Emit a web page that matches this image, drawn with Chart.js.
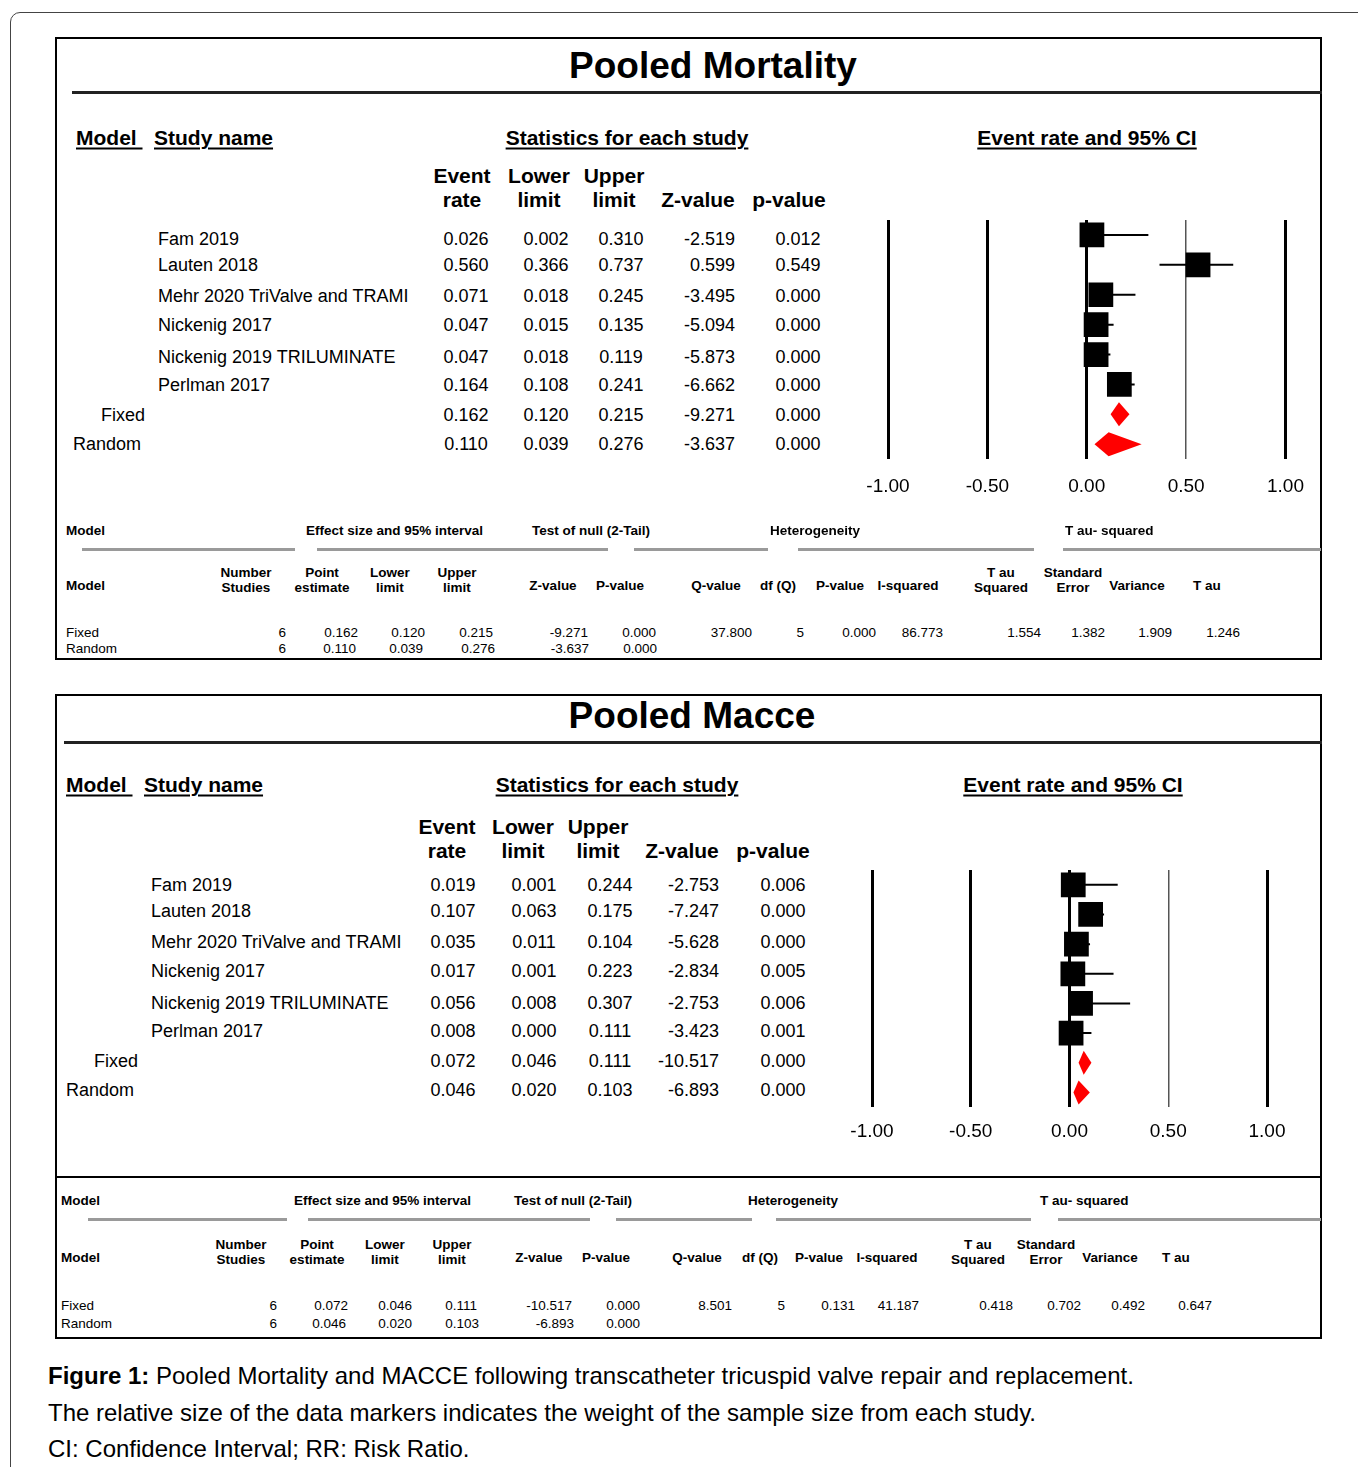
<!DOCTYPE html>
<html lang="en">
<head>
<meta charset="UTF-8">
<title>Pooled Mortality and MACCE</title>
<script src="https://cdn.jsdelivr.net/npm/chart.js"></script>
<style>
    html, body { margin: 0; padding: 0; background: #fff; }
    #page {
        position: relative;
        width: 1358px;
        height: 1467px;
        overflow: hidden;
        font-family: "Liberation Sans", Arial, sans-serif;
        color: #000;
    }
    .t { position: absolute; white-space: nowrap; line-height: 1; }
    .b { font-weight: bold; }
    .u { text-decoration: underline; text-decoration-thickness: 2px; text-underline-offset: 3px; }
    .frame {
        position: absolute; left: 10px; top: 12px; width: 1400px; height: 1500px;
        border: 1px solid #444; border-radius: 10px;
    }
    .panel { position: absolute; border: 2px solid #000; box-sizing: border-box; }
    .rule { position: absolute; background: #222; }
    .grey { position: absolute; height: 3px; background: #9a9a9a; }
    canvas { position: absolute; }
</style>
</head>
<body>
<div id="page">
    <div class="frame"></div>
    <div class="panel" style="left:55px; top:37px; width:1267px; height:623px;"></div>
    <div class="panel" style="left:55px; top:694px; width:1267px; height:645px;"></div>
    <div class="rule" style="left:72px; top:91px; width:1250px; height:3px;"></div>
    <div class="rule" style="left:64px; top:741px; width:1258px; height:3px;"></div>
    <div class="rule" style="left:55px; top:1176px; width:1267px; height:2px; background:#000;"></div>
    <canvas id="mortChart" width="480" height="317" style="left:840px; top:210px;"></canvas>
    <canvas id="macceChart" width="480" height="304" style="left:824px; top:860px;"></canvas>
</div>
<script>
// ---- data ----
const studies = ['Fam 2019', 'Lauten 2018', 'Mehr 2020 TriValve and TRAMI', 'Nickenig 2017',
                 'Nickenig 2019 TRILUMINATE', 'Perlman 2017'];
const models = ['Fixed', 'Random'];
const xTicks = [-1, -0.5, 0, 0.5, 1];

// mortality: six studies, then fixed and random pooled rows
const mortRate  = [0.026, 0.560, 0.071, 0.047, 0.047, 0.164, 0.162, 0.110];
const mortLower = [0.002, 0.366, 0.018, 0.015, 0.018, 0.108, 0.120, 0.039];
const mortUpper = [0.310, 0.737, 0.245, 0.135, 0.119, 0.241, 0.215, 0.276];
const mortZ     = [-2.519, 0.599, -3.495, -5.094, -5.873, -6.662, -9.271, -3.637];
const mortP     = [0.012, 0.549, 0.000, 0.000, 0.000, 0.000, 0.000, 0.000];

// MACCE
const macceRate  = [0.019, 0.107, 0.035, 0.017, 0.056, 0.008, 0.072, 0.046];
const macceLower = [0.001, 0.063, 0.011, 0.001, 0.008, 0.000, 0.046, 0.020];
const macceUpper = [0.244, 0.175, 0.104, 0.223, 0.307, 0.111, 0.111, 0.103];
const macceZ     = [-2.753, -7.247, -5.628, -2.834, -2.753, -3.423, -10.517, -6.893];
const macceP     = [0.006, 0.000, 0.000, 0.005, 0.006, 0.001, 0.000, 0.000];

// model summary rows (fixed row carries heterogeneity and tau-squared)
const mortFixed   = ['6', '0.162', '0.120', '0.215', '-9.271', '0.000', '37.800', '5', '0.000', '86.773', '1.554', '1.382', '1.909', '1.246'];
const mortRandom  = ['6', '0.110', '0.039', '0.276', '-3.637', '0.000'];
const macceFixed  = ['6', '0.072', '0.046', '0.111', '-10.517', '0.000', '8.501', '5', '0.131', '41.187', '0.418', '0.702', '0.492', '0.647'];
const macceRandom = ['6', '0.046', '0.020', '0.103', '-6.893', '0.000'];

const summaryHeads = [['Number', 'Studies'], ['Point', 'estimate'], ['Lower', 'limit'], ['Upper', 'limit'],
    ['Z-value'], ['P-value'], ['Q-value'], ['df (Q)'], ['P-value'], ['I-squared'],
    ['T au', 'Squared'], ['Standard', 'Error'], ['Variance'], ['T au']];
const groupHeads = ['Effect size and 95% interval', 'Test of null (2-Tail)', 'Heterogeneity', 'T au- squared'];

// ---- text helpers ----
const page = document.getElementById('page');

function put(x, y, text, opts) {
    opts = opts || {};
    const el = document.createElement('div');
    el.className = 't ' + (opts.cls || '');
    el.textContent = text;
    el.style.left = x + 'px';
    el.style.top = y + 'px';
    el.style.fontSize = (opts.size || 18) + 'px';
    const tx = opts.align === 'c' ? '-50%' : opts.align === 'r' ? '-100%' : '0';
    el.style.transform = 'translate(' + tx + ', -50%)';
    page.appendChild(el);
    return el;
}

function greyLine(x1, x2, y) {
    const el = document.createElement('div');
    el.className = 'grey';
    el.style.left = x1 + 'px';
    el.style.top = (y - 1) + 'px';
    el.style.width = (x2 - x1) + 'px';
    page.appendChild(el);
}

// upper table of one panel: study rows with their statistics
function studyTable(L, rate, lower, upper, z, p) {
    put(L.titleX, L.titleY, L.title, {cls: 'b', size: 37, align: 'c'});
    put(L.modelX, L.headY, 'Model\u00a0', {cls: 'b u', size: 21});
    put(L.studyX, L.headY, 'Study name', {cls: 'b u', size: 21});
    put(L.statsX, L.headY, 'Statistics for each study', {cls: 'b u', size: 21, align: 'c'});
    put(L.ciX, L.headY, 'Event rate and 95% CI', {cls: 'b u', size: 21, align: 'c'});

    const heads = [['Event', 'rate'], ['Lower', 'limit'], ['Upper', 'limit'], ['Z-value'], ['p-value']];
    heads.forEach((h, k) => {
        if (h.length === 2) {
            put(L.headCols[k], L.colY1, h[0], {cls: 'b', size: 21, align: 'c'});
            put(L.headCols[k], L.colY2, h[1], {cls: 'b', size: 21, align: 'c'});
        } else {
            put(L.headCols[k], L.colY2, h[0], {cls: 'b', size: 21, align: 'c'});
        }
    });

    const labels = studies.concat(models);
    labels.forEach((name, i) => {
        const y = L.rowY[i];
        let x = L.nameX;
        if (i === studies.length) x = L.fixedX;
        if (i === studies.length + 1) x = L.randomX;
        put(x, y, name, {size: 18});
        put(L.valCols[0], y, rate[i].toFixed(3), {size: 18, align: 'c'});
        put(L.valCols[1], y, lower[i].toFixed(3), {size: 18, align: 'c'});
        put(L.valCols[2], y, upper[i].toFixed(3), {size: 18, align: 'c'});
        put(L.valCols[3], y, z[i].toFixed(3), {size: 18, align: 'r'});
        put(L.valCols[4], y, p[i].toFixed(3), {size: 18, align: 'c'});
    });
}

// lower table of one panel: model summary
function summaryTable(S, fixedRow, randomRow) {
    put(S.modelX, S.groupY, 'Model', {cls: 'b', size: 13.5});
    groupHeads.forEach((g, k) => put(S.groupX[k], S.groupY, g, {cls: 'b', size: 13.5}));
    S.lines.forEach(seg => greyLine(seg[0], seg[1], S.lineY));

    put(S.modelX, S.headY2 - 2, 'Model', {cls: 'b', size: 13.5});
    summaryHeads.forEach((h, k) => {
        if (h.length === 2) {
            put(S.headX[k], S.headY1, h[0], {cls: 'b', size: 13.5, align: 'c'});
            put(S.headX[k], S.headY2, h[1], {cls: 'b', size: 13.5, align: 'c'});
        } else {
            put(S.headX[k], S.headY2 - 2, h[0], {cls: 'b', size: 13.5, align: 'c'});
        }
    });

    put(S.modelX, S.rowY[0], 'Fixed', {size: 13.5});
    put(S.modelX, S.rowY[1], 'Random', {size: 13.5});
    fixedRow.forEach((v, k) => put(S.valX[k], S.rowY[0], v, {size: 13.5, align: 'r'}));
    randomRow.forEach((v, k) => put(S.valX[k] + (S.randShift[k] || 0), S.rowY[1], v, {size: 13.5, align: 'r'}));
}

studyTable({
    title: 'Pooled Mortality', titleX: 713, titleY: 65,
    headY: 137, modelX: 76, studyX: 154, statsX: 627, ciX: 1087,
    colY1: 175, colY2: 199, headCols: [462, 539, 614, 698, 789],
    rowY: [239, 265, 296, 325, 357, 385, 415, 444],
    nameX: 158, fixedX: 101, randomX: 73,
    valCols: [466, 546, 621, 735, 798]
}, mortRate, mortLower, mortUpper, mortZ, mortP);

studyTable({
    title: 'Pooled Macce', titleX: 692, titleY: 715,
    headY: 784, modelX: 66, studyX: 144, statsX: 617, ciX: 1073,
    colY1: 826, colY2: 850, headCols: [447, 523, 598, 682, 773],
    rowY: [885, 911, 942, 971, 1003, 1031, 1061, 1090],
    nameX: 151, fixedX: 94, randomX: 66,
    valCols: [453, 534, 610, 719, 783]
}, macceRate, macceLower, macceUpper, macceZ, macceP);

summaryTable({
    modelX: 66, groupY: 531, groupX: [306, 532, 770, 1065],
    lineY: 549, lines: [[82, 295], [317, 608], [634, 768], [798, 1034], [1063, 1321]],
    headY1: 573, headY2: 588,
    headX: [246, 322, 390, 457, 553, 620, 716, 778, 840, 908, 1001, 1073, 1137, 1207],
    valX: [286, 358, 425, 493, 588, 656, 752, 804, 876, 943, 1041, 1105, 1172, 1240],
    randShift: [0, -2, -2, 2, 1, 1],
    rowY: [633, 649]
}, mortFixed, mortRandom);

summaryTable({
    modelX: 61, groupY: 1201, groupX: [294, 514, 748, 1040],
    lineY: 1219, lines: [[88, 287], [308, 590], [616, 752], [776, 1031], [1058, 1321]],
    headY1: 1245, headY2: 1260,
    headX: [241, 317, 385, 452, 539, 606, 697, 760, 819, 887, 978, 1046, 1110, 1176],
    valX: [277, 348, 412, 477, 572, 640, 732, 785, 855, 919, 1013, 1081, 1145, 1212],
    randShift: [0, -2, 0, 2, 2, 0],
    rowY: [1306, 1324]
}, macceFixed, macceRandom);

// caption
const cap1 = put(48, 1376, '', {size: 24});
cap1.innerHTML = '<b>Figure 1:</b> Pooled Mortality and MACCE following transcatheter tricuspid valve repair and replacement.';
put(48, 1413, 'The relative size of the data markers indicates the weight of the sample size from each study.', {size: 24});
put(48, 1449, 'CI: Confidence Interval; RR: Risk Ratio.', {size: 24});

// ---- forest plots ----
Chart.defaults.font.family = '"Liberation Sans", Arial, sans-serif';
Chart.defaults.color = '#000';

// pooled estimates are drawn as diamonds spanning their confidence interval
const diamondPlugin = {
    id: 'diamonds',
    afterDatasetsDraw(chart) {
        const ds = chart.data.datasets.find(d => d.diamonds);
        if (!ds) return;
        const xs = chart.scales.x, ys = chart.scales.y;
        const ctx = chart.ctx;
        ctx.save();
        ctx.fillStyle = '#ff0000';
        ds.data.forEach(pt => {
            const cy = ys.getPixelForValue(pt.y);
            const h = 12;
            ctx.beginPath();
            ctx.moveTo(xs.getPixelForValue(pt.lo), cy);
            ctx.lineTo(xs.getPixelForValue(pt.x), cy - h);
            ctx.lineTo(xs.getPixelForValue(pt.hi), cy);
            ctx.lineTo(xs.getPixelForValue(pt.x), cy + h);
            ctx.closePath();
            ctx.fill();
        });
        ctx.restore();
    }
};

function forestChart(id, rate, lower, upper, pad, tickPad) {
    const n = studies.length;
    const whiskers = [];
    const boxes = [];
    for (let i = 0; i < n; i++) {
        whiskers.push({x: lower[i], y: i}, {x: upper[i], y: i}, {x: null, y: null});
        boxes.push({x: rate[i], y: i});
    }
    const pooled = models.map((m, k) => ({
        x: rate[n + k], y: n + k, lo: lower[n + k], hi: upper[n + k]
    }));

    return new Chart(document.getElementById(id), {
        type: 'scatter',
        data: {
            datasets: [
                {
                    data: boxes, pointStyle: 'rect', pointRadius: 17.5,
                    backgroundColor: '#000', borderWidth: 0
                },
                {
                    data: whiskers, showLine: true, spanGaps: false,
                    borderColor: '#000', borderWidth: 2, pointRadius: 0
                },
                { data: pooled, pointRadius: 0, diamonds: true }
            ]
        },
        options: {
            responsive: false,
            animation: false,
            events: [],
            layout: { padding: pad, autoPadding: false },
            plugins: { legend: { display: false }, tooltip: { enabled: false } },
            scales: {
                x: {
                    type: 'linear', min: xTicks[0], max: xTicks[xTicks.length - 1],
                    afterBuildTicks: axis => { axis.ticks = xTicks.map(v => ({value: v})); },
                    ticks: {
                        callback: v => v.toFixed(2),
                        font: { size: 19 }, color: '#000',
                        padding: tickPad, maxRotation: 0, autoSkip: false
                    },
                    grid: {
                        drawTicks: false,
                        color: c => (c.tick && c.tick.value === 0.5) ? '#555' : '#000',
                        lineWidth: c => (c.tick && c.tick.value === 0.5) ? 1.5 : 3
                    },
                    border: { display: false }
                },
                y: { type: 'linear', min: -0.5, max: n + models.length - 0.5, reverse: true, display: false }
            }
        },
        plugins: [diamondPlugin]
    });
}

forestChart('mortChart', mortRate, mortLower, mortUpper, {left: 48, right: 29, top: 10, bottom: 13}, 16);
forestChart('macceChart', macceRate, macceLower, macceUpper, {left: 48, right: 37, top: 10, bottom: 8}, 13);
</script>
</body>
</html>
